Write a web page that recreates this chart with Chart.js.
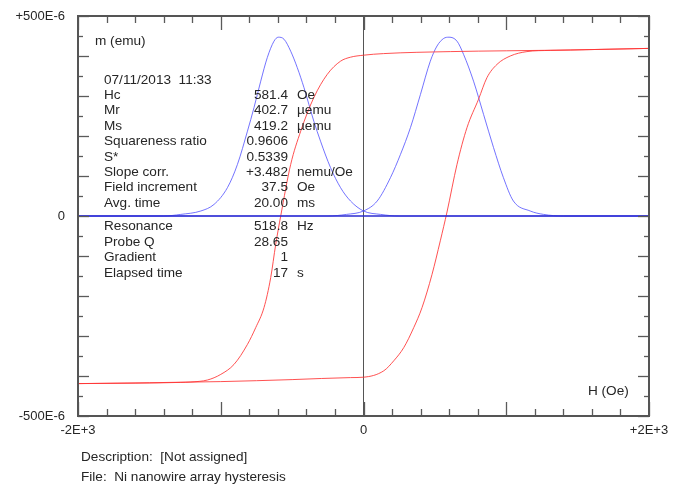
<!DOCTYPE html>
<html><head><meta charset="utf-8">
<script src="https://cdn.jsdelivr.net/npm/chart.js@4"></script>
<style>
html,body{margin:0;padding:0;background:#fff;}
#wrap{position:relative;width:682px;height:489px;overflow:hidden;font-family:"Liberation Sans",Arial,sans-serif;color:#262626;font-size:13.6px;}
#c{position:absolute;left:0;top:0;}
.t{position:absolute;white-space:pre;line-height:16px;}
.r{text-align:right;}
</style></head><body>
<div id="wrap"><canvas id="c" width="682" height="489"></canvas></div>
<script>
// ---- data (H in Oe, m in µemu) ----
const descH = [-2000,-1600,-1280,-1210,-1093,-1000,-907,-813,-755,-697,-650,-615,-580,-510,-440,-348,-254,-161,-91,0,140,608,1000,1448,2000];
const descM = [-419,-418,-416,-415,-410,-396,-371,-321,-279,-229,-154,-71,0,129,212,296,354,387,397,402,406,411,413,415,419];
const ascH  = [-2000,-1000,-500,-91,0,142,212,282,352,410,480,538,585,655,725,806,865,935,1028,1145,1308,1448,2000];
const ascM  = [-419,-414,-409,-404,-403,-387,-362,-329,-279,-229,-146,-62,10,129,221,292,346,379,400,411,414,415,419];
const dLeftH = [-2000,-1400,-1280,-1140,-1047,-953,-883,-813,-767,-720,-674,-627,-597,-557,-510,-464,-417,-348,-301,-231,-161,-91,0,119,250,2000];
const dLeftM = [0,0,4,12.5,29,71,129,212,271,337,396,437,447,442,412,371,321,237,187,121,71,37.5,12.5,4,0,0];
const dRightH = [-2000,-250,-119,0,96,189,259,329,399,468,515,562,599,655,701,771,841,911,980,1050,1168,1261,1400,2000];
const dRightM = [0,0,4,12.5,37.5,96,154,221,304,387,425,444,447,437,404,337,254,171,96,37.5,12.5,4,0,0];
const baseH = [-2000,2000];
const baseM = [0,0];
const xTickLabels = {'-2000':'-2E+3','0':'0','2000':'+2E+3'};
const yTickLabels = {'500':'+500E-6','0':'0','-500':'-500E-6'};
const infoLabels = ['Hc','Mr','Ms','Squareness ratio','S*','Slope corr.','Field increment','Avg. time'];
const infoValues = ['581.4','402.7','419.2','0.9606','0.5339','+3.482','37.5','20.00'];
const infoUnits  = ['Oe','\u00b5emu','\u00b5emu','','','nemu/Oe','Oe','ms'];
const info2Labels = ['Resonance','Probe Q','Gradient','Elapsed time'];
const info2Values = ['518.8','28.65','1','17'];
const info2Units  = ['Hz','','','s'];

const pts=(xs,ys)=>xs.map((v,i)=>({x:v,y:ys[i]}));

const wrap=document.getElementById('wrap');
function addText(txt,left,top,cls,right){
  const d=document.createElement('div');d.className='t'+(cls?' '+cls:'');d.textContent=txt;
  d.style.top=top+'px';
  if(right!==undefined){d.style.right=(682-right)+'px';} else d.style.left=left+'px';
  wrap.appendChild(d);
}
addText('m (emu)',95,33);
addText('H (Oe)',588,383);
addText('07/11/2013  11:33',104,72);
infoLabels.forEach((s,i)=>{const top=87+i*15.4;addText(s,104,top);addText(infoValues[i],0,top,'r',288);addText(infoUnits[i],297,top);});
info2Labels.forEach((s,i)=>{const top=218+i*15.6;addText(s,104,top);addText(info2Values[i],0,top,'r',288);addText(info2Units[i],297,top);});
addText('Description:  [Not assigned]',81,449);
addText('File:  Ni nanowire array hysteresis',81,469);

const innerTicks={id:'innerTicks',afterDatasetsDraw(chart){
  const {ctx,chartArea:a,scales:{x,y}}=chart;
  ctx.save();ctx.strokeStyle='#5a5a5a';ctx.lineWidth=1.3;
  const ln=(x1,y1,x2,y2)=>{ctx.beginPath();ctx.moveTo(x1,y1);ctx.lineTo(x2,y2);ctx.stroke();};
  x.ticks.forEach(t=>{const p=Math.round(x.getPixelForValue(t.value))+0.5;const L=(t.value%1000===0)?14:7;ln(p,a.bottom,p,a.bottom-L);ln(p,a.top,p,a.top+L);});
  y.ticks.forEach(t=>{const p=Math.round(y.getPixelForValue(t.value))+0.5;const L=(t.value%100===0)?11:5;ln(a.left,p,a.left+L,p);ln(a.right,p,a.right-L,p);});
  ctx.lineWidth=2;ctx.strokeStyle='#555';ctx.strokeRect(a.left,a.top,a.right-a.left,a.bottom-a.top);
  ctx.restore();
}};

const red='rgba(255,50,50,0.85)', blue='rgba(80,80,255,0.8)';
const ds=(label,data,color,w)=>({label,data,borderColor:color,borderWidth:w,pointRadius:0,showLine:true,fill:false,cubicInterpolationMode:'monotone'});
new Chart(document.getElementById('c'),{
  type:'scatter',
  data:{datasets:[
    ds('base',pts(baseH,baseM),'#2b2bcf',1.6),
    ds('desc',pts(descH,descM),red,1),
    ds('asc',pts(ascH,ascM),red,1),
    ds('dLeft',pts(dLeftH,dLeftM),blue,1),
    ds('dRight',pts(dRightH,dRightM),blue,1)
  ]},
  plugins:[innerTicks],
  options:{
    responsive:false,animation:false,
    layout:{padding:{top:16,right:33,left:0,bottom:0}},
    plugins:{legend:{display:false},tooltip:{enabled:false}},
    scales:{
      x:{type:'linear',min:-2000,max:2000,
        afterFit(s){s.height=73;s.paddingLeft=0;s.paddingRight=0;},
        border:{display:false},
        grid:{drawTicks:false,drawOnChartArea:true,color:c=>c.tick&&c.tick.value===0?'#555':'rgba(0,0,0,0)',lineWidth:1},
        ticks:{stepSize:200,autoSkip:false,maxRotation:0,padding:7,color:'#262626',font:{family:'"Liberation Sans", Arial, sans-serif',size:13},
          callback:v=>xTickLabels[String(v)]||''}},
      y:{type:'linear',min:-500,max:500,
        afterFit(s){s.width=78;s.paddingTop=0;s.paddingBottom=0;},
        border:{display:false},
        grid:{display:false,drawTicks:false},
        ticks:{stepSize:50,autoSkip:false,padding:13,color:'#262626',font:{family:'"Liberation Sans", Arial, sans-serif',size:13},
          callback:v=>yTickLabels[String(v)]||''}}
    }
  }
});
</script>
</body></html>
